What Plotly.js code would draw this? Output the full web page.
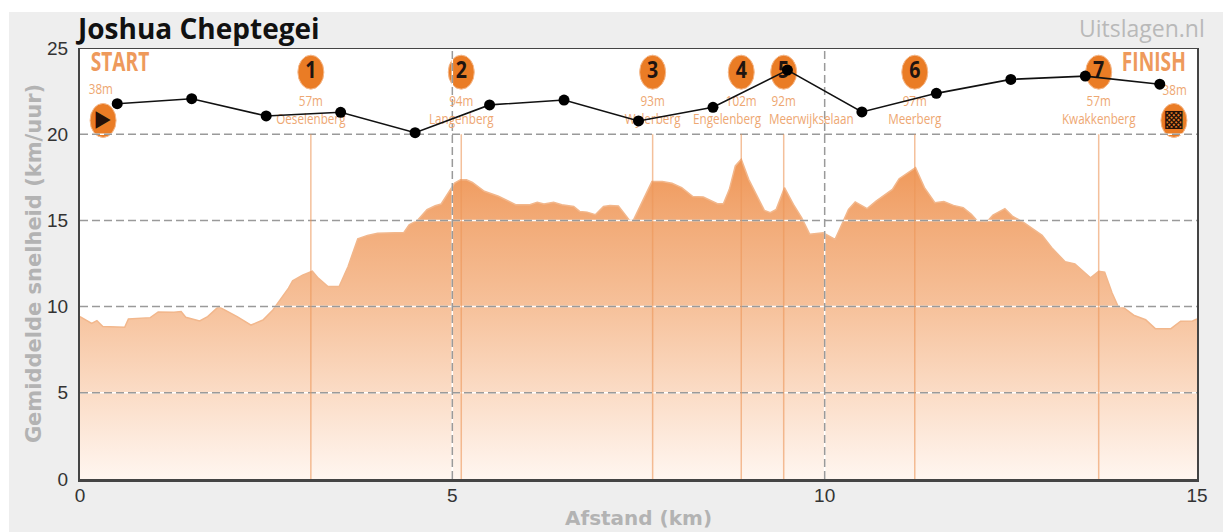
<!DOCTYPE html>
<html>
<head>
<meta charset="utf-8">
<script src="https://cdn.plot.ly/plotly-3.0.1.min.js"></script>
<style>
html,body{margin:0;padding:0;background:#fff;width:1223px;height:532px;overflow:hidden}
#gd{position:absolute;left:9px;top:12px;width:1214px;height:520px}
</style>
</head>
<body>
<div id="gd"></div>
<script>
const profileKm = [0,0.157,0.227,0.306,0.6,0.65,0.944,1.05,1.262,1.358,1.42,1.607,1.714,1.86,2.11,2.297,2.457,2.59,2.8,2.855,2.988,3.12,3.2,3.33,3.48,3.6,3.73,3.86,3.996,4.35,4.42,4.53,4.66,4.77,4.85,5.03,5.11,5.19,5.27,5.43,5.62,5.85,6.04,6.14,6.23,6.36,6.47,6.63,6.71,6.81,6.92,7.03,7.117,7.23,7.3,7.38,7.43,7.68,7.82,7.95,8.08,8.23,8.37,8.56,8.64,8.72,8.8,8.88,8.98,9.08,9.19,9.27,9.35,9.46,9.58,9.69,9.8,9.98,10.14,10.21,10.32,10.41,10.57,10.69,10.91,11,11.22,11.34,11.48,11.6,11.73,11.86,11.97,12.05,12.18,12.26,12.42,12.52,12.68,12.92,13.05,13.23,13.36,13.57,13.68,13.76,13.86,13.94,14.02,14.15,14.31,14.44,14.65,14.78,14.94,15];
const profileValue = [9.42,9.03,9.19,8.84,8.8,9.28,9.36,9.69,9.67,9.71,9.38,9.17,9.42,10,9.42,8.93,9.22,9.8,11.07,11.49,11.82,12.05,11.65,11.16,11.16,12.33,13.93,14.13,14.26,14.3,14.75,15,15.62,15.85,15.95,17.17,17.36,17.36,17.2,16.69,16.4,15.91,15.91,16.05,15.95,16.05,15.91,15.81,15.52,15.48,15.33,15.81,15.87,15.83,15.45,15,15,17.25,17.25,17.15,16.9,16.38,16.36,15.97,15.97,16.8,18.16,18.55,17.38,16.51,15.58,15.45,15.64,16.9,15.93,15.16,14.19,14.28,13.9,14.57,15.64,16.07,15.68,16.12,16.8,17.42,18.06,16.9,16.03,16.09,15.87,15.74,15.35,14.96,14.92,15.31,15.68,15.25,14.86,14.13,13.41,12.6,12.48,11.67,12.05,12,10.79,10.02,9.92,9.5,9.24,8.72,8.72,9.15,9.17,9.28];

const speedKm = [0.5,1.5,2.5,3.5,4.5,5.5,6.5,7.5,8.5,9.5,10.5,11.5,12.5,13.5,14.5];
const speedValue = [21.77,22.06,21.06,21.27,20.09,21.7,21.98,20.77,21.56,23.72,21.29,22.37,23.18,23.37,22.9];

const climbKm = [3.1,5.12,7.69,8.88,9.45,11.21,13.68];
const climbNumber = ['1','2','3','4','5','6','7'];
const climbHeight = ['57m','94m','93m','102m','92m','97m','57m'];
const climbName = ['Oeselenberg','Langenberg','Wylerberg','Engelenberg','Meerwijkselaan','Meerberg','Kwakkenberg'];
const climbNameKm = [3.1,5.12,7.69,8.69,9.82,11.21,13.68];

const endLabelKm = [0.537,14.42];
const endLabel = ['START','FINISH'];
const endKm = [0.31,14.69];
const endHeight = ['38m','38m'];
const endIcon = ['▶','▩'];

const gridY = [5,10,15,20];
const gridX = [5,10];
const axisTicksX = [0,5,10,15];
const axisTicksY = [0,5,10,15,20,25];

const sans = '"Open Sans",sans-serif';
const orange = '#ea7c25';
const soft = '#eea772';
const gridGray = '#9a9a9a';

const flat = a => a.flatMap(v => [v,v,null]);
const traces = [];

traces.push({
  x: profileKm, y: profileValue, mode:'lines', fill:'tozeroy', hoverinfo:'skip',
  line:{color:'#f2b78c',width:1.5},
  fillgradient:{type:'vertical',start:0,stop:18.55,
    colorscale:[[0,'#fff6f0'],[0.27,'#fbdcc6'],[0.55,'#f6c099'],[0.8,'#f2ab78'],[1,'#ef9757']]}
});
const hx = gridY.flatMap(() => [0,15,null]);
const hy = flat(gridY);
const vx = flat(gridX);
const vy = gridX.flatMap(() => [0,25,null]);
traces.push({x:hx.concat(vx),y:hy.concat(vy),mode:'lines',hoverinfo:'skip',line:{color:'#ffffff',width:1.5}});
traces.push({x:hx.concat(vx),y:hy.concat(vy),mode:'lines',hoverinfo:'skip',line:{color:gridGray,width:1.5,dash:'8px,4px'}});
traces.push({
  x: flat(climbKm),
  y: climbKm.flatMap(() => [0,20,null]),
  mode:'lines',hoverinfo:'skip',line:{color:'rgba(236,150,88,0.6)',width:1.5}
});
traces.push({x:climbKm,y:climbKm.map(()=>23.6),mode:'text',text:climbNumber,hoverinfo:'skip',
  textfont:{family:sans,size:23,color:'#1f1410',weight:700}});
traces.push({x:climbKm,y:climbKm.map(()=>21.85),mode:'text',text:climbHeight,hoverinfo:'skip',
  textfont:{family:sans,size:15,color:soft}});
traces.push({x:climbNameKm,y:climbKm.map(()=>20.8),mode:'text',text:climbName,hoverinfo:'skip',
  textfont:{family:sans,size:15,color:soft}});
traces.push({x:endLabelKm,y:endLabelKm.map(()=>24.05),mode:'text',text:endLabel,hoverinfo:'skip',
  textfont:{family:sans,size:27,color:'#ee9a5c',weight:700}});
traces.push({x:[0.28,14.7],y:[22.55,22.5],mode:'text',text:endHeight,hoverinfo:'skip',
  textfont:{family:sans,size:15,color:soft}});
traces.push({x:endKm,y:[20.8,20.8],mode:'text',text:endIcon,hoverinfo:'skip',
  textfont:{family:'"DejaVu Sans",sans-serif',size:23,color:'#241008'}});
traces.push({
  x: speedKm, y: speedValue, mode:'lines+markers', hoverinfo:'x+y',
  line:{color:'#111111',width:1.6},
  marker:{color:'#000000',size:11,symbol:'circle'}
});

const ellipse = (km, yv, w, h) => ({
  type:'circle',layer:'below',xref:'x',yref:'y',xsizemode:'pixel',ysizemode:'pixel',
  xanchor:km,yanchor:yv,x0:-w/2,x1:w/2,y0:-h/2,y1:h/2,
  fillcolor:orange,line:{color:'#f5b98c',width:1}
});
const shapes = climbKm.map(k => ellipse(k,23.6,26,34));
endKm.forEach(k => shapes.push(ellipse(k,20.8,26,34)));
shapes.push({type:'line',xref:'x',yref:'y',x0:0,x1:15,y0:25,y1:25,layer:'above',line:{color:'#444444',width:2}});

const layout = {
  width:1214,height:520,autosize:false,
  margin:{l:71,r:26,t:36,b:53,pad:0},
  paper_bgcolor:'#eeeeee',plot_bgcolor:'#ffffff',
  showlegend:false,
  title:{text:'Joshua Cheptegei',x:0.0568,xanchor:'left',xref:'container',y:0.967,yanchor:'middle',
    font:{family:sans,size:28,color:'#111111',weight:700}},
  xaxis:{range:[0,15],tickvals:axisTicksX,ticktext:axisTicksX.map(String),showgrid:false,zeroline:false,
    showline:true,linecolor:'#444444',linewidth:3,mirror:false,
    ticks:'',ticklen:0,ticklabelstandoff:-3,
    tickfont:{family:'"Liberation Sans",sans-serif',size:19,color:'#333333'},
    title:{text:'Afstand (km)',standoff:7,font:{family:'"DejaVu Sans",sans-serif',size:20,color:'#b3b3b3',weight:700}}},
  yaxis:{range:[0,25],tickvals:axisTicksY,ticktext:axisTicksY.map(String),showgrid:false,zeroline:false,
    showline:true,linecolor:'#444444',linewidth:2,mirror:true,
    ticks:'outside',ticklen:6,tickcolor:'rgba(0,0,0,0)',
    tickfont:{family:'"Liberation Sans",sans-serif',size:19,color:'#333333'},
    title:{text:'Gemiddelde snelheid (km/uur)',standoff:0,font:{family:'"DejaVu Sans",sans-serif',size:21,color:'#b3b3b3',weight:700}}},
  shapes:shapes,
  annotations:[{text:'Uitslagen.nl',xref:'paper',yref:'paper',x:1.0,y:1.0,xanchor:'right',yanchor:'bottom',yshift:2,xshift:10,showarrow:false,
    font:{family:sans,size:23,color:'#b9b9b9'}}]
};

const condensedText = new Map();
climbHeight.concat(climbName, endHeight).forEach(t => condensedText.set(t,0.78));
endLabel.forEach(t => condensedText.set(t,0.71));
climbNumber.forEach(t => condensedText.set(t,0.85));
condensedText.set(endIcon[0],0.85);
Plotly.newPlot('gd',traces,layout,{displayModeBar:false}).then(gd => {
  gd.querySelectorAll('.scatterlayer text').forEach(el => {
    const s = condensedText.get(el.textContent);
    if (!s) return;
    const x = parseFloat(el.getAttribute('x')) || 0;
    const y = parseFloat(el.getAttribute('y')) || 0;
    el.setAttribute('transform', `translate(${x},${y}) scale(${s},1) translate(${-x},${-y})`);
  });
});
</script>
</body>
</html>
